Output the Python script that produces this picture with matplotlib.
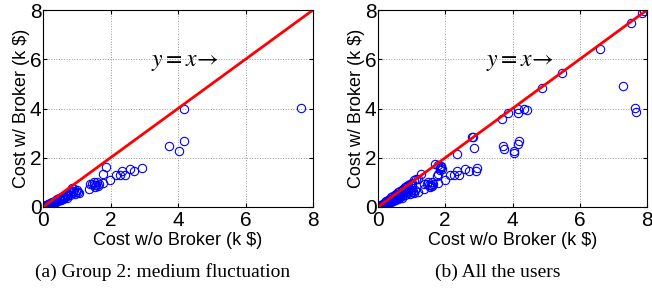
import numpy as np
import matplotlib
matplotlib.use("Agg")
import matplotlib.pyplot as plt

plt.rcParams['font.family'] = ['Liberation Sans', 'DejaVu Sans']
plt.rcParams['mathtext.fontset'] = 'stix'

# group 2 (medium fluctuation): cost without broker vs with broker, k$
g2_x = [0.02, 0.04, 0.06, 0.08, 0.10, 0.12, 0.15, 0.18, 0.20, 0.22, 0.25, 0.28,
        0.30, 0.33, 0.35, 0.38, 0.40, 0.42, 0.45, 0.48, 0.50, 0.52, 0.55, 0.58,
        0.60, 0.63, 0.66, 0.70, 0.72, 0.75, 0.80, 0.83, 0.85, 0.88, 0.90, 0.93,
        0.95, 0.98, 1.00, 1.05, 1.08, 0.14, 0.26, 0.36, 0.46, 0.56, 0.68,
        1.36, 1.38, 1.45, 1.50, 1.52, 1.55, 1.58, 1.60, 1.62, 1.65, 1.78, 1.79,
        1.86, 1.98, 2.15, 2.27, 2.35, 2.42, 2.59, 2.71, 2.94, 3.73, 4.03, 4.17,
        4.18, 7.65]
g2_y = [0.01, 0.03, 0.04, 0.05, 0.07, 0.08, 0.09, 0.12, 0.10, 0.15, 0.14, 0.20,
        0.16, 0.22, 0.19, 0.28, 0.22, 0.34, 0.26, 0.38, 0.30, 0.27, 0.36, 0.32,
        0.42, 0.35, 0.40, 0.45, 0.38, 0.50, 0.47, 0.62, 0.78, 0.55, 0.66, 0.75,
        0.52, 0.60, 0.70, 0.62, 0.57, 0.11, 0.18, 0.25, 0.31, 0.40, 0.48,
        0.74, 0.93, 0.95, 1.02, 0.88, 0.82, 0.90, 1.00, 0.85, 0.92, 0.98, 1.32,
        1.61, 1.08, 1.28, 1.28, 1.45, 1.30, 1.55, 1.45, 1.59, 2.47, 2.26, 3.96,
        2.66, 4.02]

# remaining users (shown together with group 2 in "all the users")
rest_x = [0.05, 0.10, 0.15, 0.20, 0.25, 0.30, 0.35, 0.40, 0.45, 0.50, 0.55,
          0.60, 0.65, 0.70, 0.75, 0.80, 0.85, 0.90, 0.95, 1.00, 1.08, 1.12,
          1.18, 1.29, 0.30, 0.50, 0.70, 0.90, 1.00, 0.20, 0.40, 0.60, 0.80,
          1.10, 1.20, 1.71, 1.78, 1.85, 1.88,
          1.83, 1.90, 1.75, 2.36, 2.79, 2.83, 2.85, 2.90, 3.68, 3.74, 3.86,
          4.04, 4.17, 4.17, 4.33, 4.44, 4.87, 5.47, 6.59, 7.29, 7.51, 7.66,
          7.85, 7.92]
rest_y = [0.05, 0.10, 0.14, 0.20, 0.24, 0.30, 0.34, 0.40, 0.44, 0.50, 0.54,
          0.60, 0.64, 0.70, 0.73, 0.80, 0.84, 0.90, 0.93, 0.98, 1.10, 1.12,
          1.15, 1.34, 0.25, 0.40, 0.55, 0.75, 0.85, 0.12, 0.30, 0.48, 0.60,
          0.70, 0.62, 1.73, 1.70, 1.60, 1.65,
          1.52, 1.55, 1.25, 2.15, 2.85, 2.86, 2.39, 1.48, 3.56, 2.37, 3.80,
          2.18, 3.80, 2.55, 3.96, 3.94, 4.84, 5.44, 6.42, 4.93, 7.46, 3.87,
          7.89, 7.96]

all_x = g2_x + rest_x
all_y = g2_y + rest_y

fig = plt.figure(figsize=(6.52, 2.88), dpi=100)
axA = fig.add_axes([43/652, 81/288, 270/652, 197/288])
axB = fig.add_axes([378/652, 81/288, 269/652, 197/288])

for ax, xs, ys in [(axA, g2_x, g2_y), (axB, all_x, all_y)]:
    ax.plot(xs, ys, 'o', mfc='none', mec='#0000ff', ms=6, mew=0.8)
    ax.plot([0, 8], [0, 8], color='#ff0000', lw=2.0)
    ax.set_xlim(0, 8)
    ax.set_ylim(0, 8)
    ax.set_xticks([0, 2, 4, 6, 8])
    ax.set_yticks([0, 2, 4, 6, 8])
    ax.grid(True, ls=':', color='#999999', lw=0.7)
    ax.tick_params(direction='in', labelsize=15, top=True, right=True,
                   length=3, pad=1)
    ax.tick_params(axis='x', pad=3)
    ax.set_xlabel('Cost w/o Broker (k $)', fontsize=13, labelpad=1)
    ax.set_ylabel('Cost w/ Broker (k $)', fontsize=13, labelpad=0)
    ax.text(3.2, 5.9, r'$y = x\!\rightarrow$', fontsize=17, va='center')
    for s in ax.spines.values():
        s.set_linewidth(0.8)

fig.text(163/652, 16/288, '(a) Group 2: medium fluctuation', ha='center',
         va='center', fontsize=14, family='Liberation Serif')
fig.text(498/652, 16/288, '(b) All the users', ha='center',
         va='center', fontsize=14, family='Liberation Serif')

fig.savefig('out.png', dpi=100)
